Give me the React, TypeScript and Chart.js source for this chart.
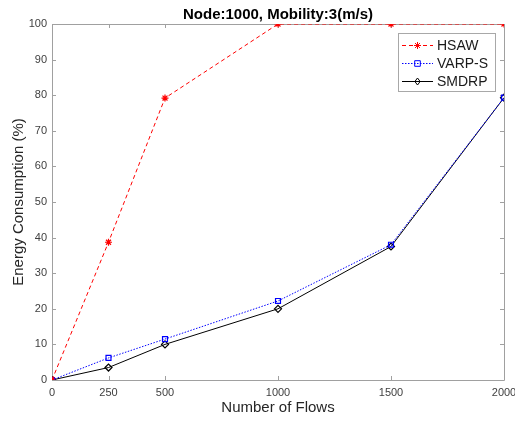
import React, { useEffect, useRef } from 'react';
import { Chart, registerables } from 'chart.js';

Chart.register(...registerables);

const flows = [0, 250, 500, 1000, 1500, 2000];
const hsaw = [0, 38.7, 79.2, 100, 100, 100];
const varps = [0, 6.2, 11.5, 22.2, 38, 79.3];
const smdrp = [0, 3.5, 10, 20, 37.5, 79.3];
const xTickValues = [0, 250, 500, 1000, 1500, 2000];
const yTickValues = [0, 10, 20, 30, 40, 50, 60, 70, 80, 90, 100];
const seriesLabels = ['HSAW', 'VARP-S', 'SMDRP'];
const titleText = 'Node:1000, Mobility:3(m/s)';
const xTitle = 'Number of Flows';
const yTitle = 'Energy Consumption (%)';

const FONT = "'Liberation Sans', Arial, sans-serif";
const AXIS_COLOR = '#a0a0a0';
const TEXT_COLOR = '#404040';

function drawMarker(ctx: CanvasRenderingContext2D, style: string, x: number, y: number, r: number, color: string) {
  ctx.save();
  ctx.setLineDash([]);
  ctx.strokeStyle = color;
  ctx.fillStyle = color;
  ctx.lineWidth = 1;
  ctx.beginPath();
  if (style === 'star') {
    for (let i = 0; i < 4; i++) {
      const a = (Math.PI / 4) * i;
      ctx.moveTo(x - r * Math.cos(a), y - r * Math.sin(a));
      ctx.lineTo(x + r * Math.cos(a), y + r * Math.sin(a));
    }
    ctx.stroke();
  } else if (style === 'rect') {
    ctx.rect(x - r * 0.8, y - r * 0.8, r * 1.6, r * 1.6);
    ctx.stroke();
  } else {
    ctx.moveTo(x, y - r);
    ctx.lineTo(x + r * 0.75, y);
    ctx.lineTo(x, y + r);
    ctx.lineTo(x - r * 0.75, y);
    ctx.closePath();
    ctx.stroke();
  }
  ctx.restore();
}

const boxPlugin = {
  id: 'matlabBox',
  beforeDatasetsDraw(chart: any) {
    const { ctx, chartArea } = chart;
    const { left, right, top, bottom } = chartArea;
    const xs = chart.scales.x;
    const ys = chart.scales.y;
    ctx.save();
    ctx.strokeStyle = AXIS_COLOR;
    ctx.lineWidth = 1;
    ctx.beginPath();
    ctx.rect(Math.round(left) + 0.5, Math.round(top) + 0.5, Math.round(right - left), Math.round(bottom - top));
    ctx.stroke();
    ctx.beginPath();
    const t = 4;
    xs.ticks.forEach((tk: any) => {
      const px = Math.round(xs.getPixelForValue(tk.value)) + 0.5;
      ctx.moveTo(px, bottom);
      ctx.lineTo(px, bottom - t);
      ctx.moveTo(px, top);
      ctx.lineTo(px, top + t);
    });
    ys.ticks.forEach((tk: any) => {
      const py = Math.round(ys.getPixelForValue(tk.value)) + 0.5;
      ctx.moveTo(left, py);
      ctx.lineTo(left + t, py);
      ctx.moveTo(right, py);
      ctx.lineTo(right - t, py);
    });
    ctx.stroke();
    ctx.restore();
  },
};

const legendPlugin = {
  id: 'matlabLegend',
  afterDraw(chart: any) {
    const { ctx, chartArea } = chart;
    const bx = chartArea.right - 106;
    const by = chartArea.top + 9;
    const bw = 97;
    const bh = 58;
    ctx.save();
    ctx.fillStyle = '#ffffff';
    ctx.fillRect(bx, by, bw, bh);
    ctx.strokeStyle = '#a8a8a8';
    ctx.lineWidth = 1;
    ctx.strokeRect(bx + 0.5, by + 0.5, bw, bh);
    chart.data.datasets.forEach((ds: any, i: number) => {
      const y = by + 12 + i * 18;
      ctx.beginPath();
      ctx.strokeStyle = ds.borderColor;
      ctx.lineWidth = ds.borderWidth;
      ctx.setLineDash(ds.borderDash || []);
      ctx.moveTo(bx + 4, y + 0.5);
      ctx.lineTo(bx + 35, y + 0.5);
      ctx.stroke();
      drawMarker(ctx, ds.pointStyle, bx + 19.5, y + 0.5, 3.5, ds.borderColor);
      ctx.setLineDash([]);
      ctx.fillStyle = '#1a1a1a';
      ctx.font = `14px ${FONT}`;
      ctx.textBaseline = 'middle';
      ctx.textAlign = 'left';
      ctx.fillText(ds.label, bx + 39, y + 1);
    });
    ctx.restore();
  },
};

export default function App() {
  const ref = useRef<HTMLCanvasElement>(null);
  useEffect(() => {
    if (!ref.current) return;
    const mk = (vals: number[]) => flows.map((f, i) => ({ x: f, y: vals[i] }));
    const chart = new Chart(ref.current, {
      type: 'line',
      data: {
        datasets: [
          {
            label: seriesLabels[0],
            data: mk(hsaw),
            borderColor: '#ff0000',
            backgroundColor: '#ff0000',
            borderWidth: 1,
            borderDash: [4, 3],
            pointStyle: 'star',
            pointRadius: 3.5,
            pointBorderWidth: 1.2,
          },
          {
            label: seriesLabels[1],
            data: mk(varps),
            borderColor: '#0000ff',
            backgroundColor: 'rgba(0,0,0,0)',
            borderWidth: 1,
            borderDash: [1.5, 1.5],
            pointStyle: 'rect',
            pointRadius: 3.5,
            pointBorderWidth: 1.2,
          },
          {
            label: seriesLabels[2],
            data: mk(smdrp),
            borderColor: '#000000',
            backgroundColor: 'rgba(0,0,0,0)',
            borderWidth: 1,
            pointStyle: 'rectRot',
            pointRadius: 3.5,
            pointBorderWidth: 1.2,
          },
        ] as any,
      },
      plugins: [boxPlugin, legendPlugin],
      options: {
        responsive: false,
        animation: false,
        events: [],
        layout: { padding: { top: 0, right: 11, left: 0, bottom: 0 } },
        plugins: {
          legend: { display: false },
          tooltip: { enabled: false },
          title: {
            display: true,
            text: titleText,
            fullSize: false,
            color: '#000000',
            font: { family: FONT, size: 15, weight: 'bold' },
            padding: { top: 6, bottom: 0 },
          },
        },
        scales: {
          x: {
            type: 'linear',
            min: 0,
            max: 2000,
            afterBuildTicks: (s: any) => {
              s.ticks = xTickValues.map((v) => ({ value: v }));
            },
            afterFit: (s: any) => {
              s.height = 41;
              s.paddingLeft = 0;
              s.paddingRight = 0;
            },
            grid: { display: false, drawTicks: false },
            border: { display: false },
            ticks: {
              color: TEXT_COLOR,
              font: { family: FONT, size: 11 },
              padding: 6,
              maxRotation: 0,
              autoSkip: false,
              callback: (v: any) => String(v),
            },
            title: { display: true, text: xTitle, color: '#262626', font: { family: FONT, size: 15 }, padding: { top: 0, bottom: 4 } },
          },
          y: {
            type: 'linear',
            min: 0,
            max: 100,
            afterBuildTicks: (s: any) => {
              s.ticks = yTickValues.map((v) => ({ value: v }));
            },
            afterFit: (s: any) => {
              s.width = 52;
              s.paddingTop = 0;
              s.paddingBottom = 0;
            },
            grid: { display: false, drawTicks: false },
            border: { display: false },
            ticks: { color: TEXT_COLOR, font: { family: FONT, size: 11 }, padding: 5, callback: (v: any) => String(v) },
            title: { display: true, text: yTitle, color: '#262626', font: { family: FONT, size: 15 }, padding: { top: 10, bottom: 0 } },
          },
        },
      } as any,
    });
    return () => chart.destroy();
  }, []);
  return (
    <div style={{ position: 'absolute', left: 0, top: 0, width: 515, height: 421, background: '#ffffff' }}>
      <canvas ref={ref} width={515} height={421} style={{ display: 'block' }} />
    </div>
  );
}
